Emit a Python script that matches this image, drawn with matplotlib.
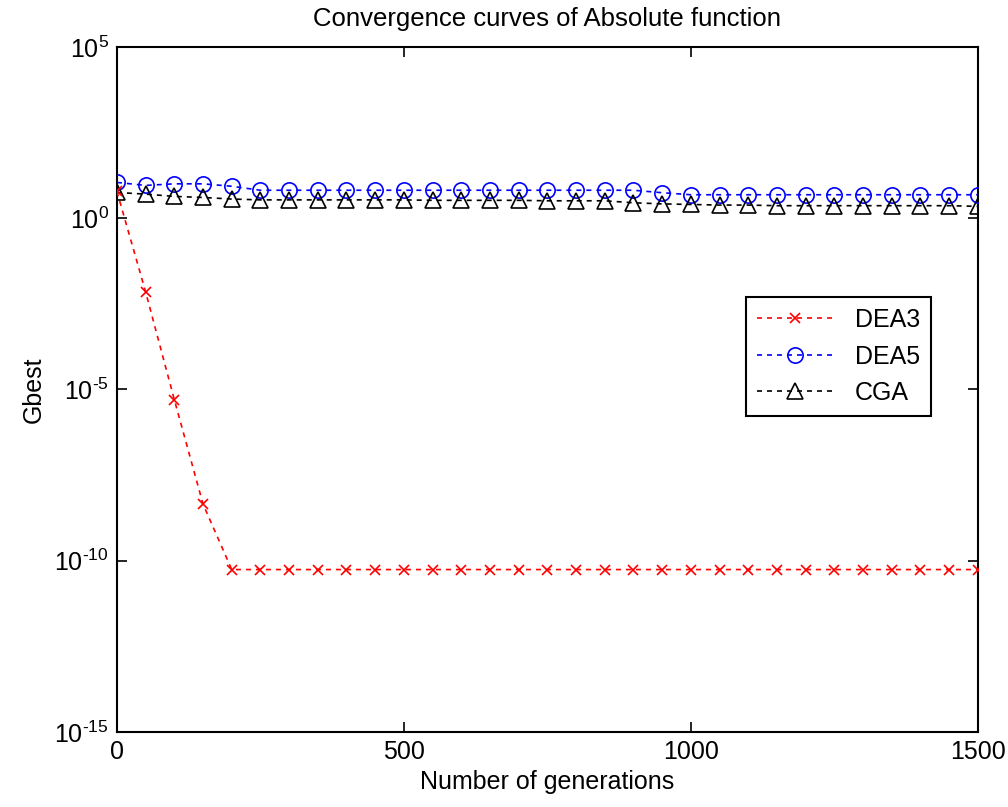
import numpy as np
import matplotlib.pyplot as plt
from matplotlib.ticker import FuncFormatter

plt.rcParams['font.family'] = ['Liberation Sans', 'DejaVu Sans']
plt.rcParams['mathtext.fontset'] = 'custom'
plt.rcParams['mathtext.rm'] = 'Liberation Sans'
plt.rcParams['mathtext.default'] = 'regular'

# generations sampled every 50
generations = list(range(0, 1501, 50))

dea3 = [6.0, 7e-3, 5e-6, 4.5e-9, 5.5e-11] + [5.5e-11] * 26
dea5 = [11.0, 9.0, 10.0, 10.0, 8.5,
        6.5, 6.5, 6.5, 6.5, 6.5, 6.5, 6.5, 6.5, 6.5, 6.5, 6.5, 6.5, 6.5, 6.5,
        5.5,
        4.8, 4.8, 4.8, 4.8, 4.8, 4.8, 4.8, 4.8, 4.8, 4.8, 4.8]
cga = [5.6, 5.0, 4.3, 4.0, 3.6,
       3.4, 3.4, 3.4, 3.4, 3.4, 3.4, 3.3, 3.3, 3.3, 3.3, 3.2, 3.2, 3.2,
       2.8, 2.6, 2.5, 2.4, 2.4, 2.3, 2.3, 2.3, 2.3, 2.3, 2.3, 2.3, 2.2]

fig = plt.figure(figsize=(10.08, 8.07), dpi=100)
ax = fig.add_axes([0.116, 0.093, 0.854, 0.849])

dash = (0, (3, 3))
ax.semilogy(generations, dea3, color='red', linestyle=dash, marker='x',
            markersize=7.5, markeredgewidth=1.2, linewidth=1.2, label='DEA3', zorder=5)
ax.semilogy(generations, dea5, color='blue', linestyle=dash, marker='o',
            markersize=11, markerfacecolor='none', markeredgewidth=1.2,
            linewidth=1.2, label='DEA5', zorder=3)
ax.semilogy(generations, cga, color='black', linestyle=dash, marker='^',
            markersize=11, markerfacecolor='none', markeredgewidth=1.2,
            linewidth=1.2, label='CGA', zorder=4)

ax.set_xlim(0, 1500)
ax.set_ylim(1e-15, 1e5)
ax.set_xticks([0, 500, 1000, 1500])
ax.set_yticks([1e-15, 1e-10, 1e-5, 1e0, 1e5])
ax.yaxis.set_minor_locator(plt.NullLocator())
# exponent with a plain hyphen, as MATLAB prints it
ax.yaxis.set_major_formatter(FuncFormatter(
    lambda v, pos: r'$10^{\text{%d}}$' % round(np.log10(v))))
ax.tick_params(direction='in', top=True, right=True, labelsize=18,
               length=7, width=1.2, pad=6)
for s in ax.spines.values():
    s.set_linewidth(1.5)

ax.set_title('Convergence curves of Absolute function', fontsize=18.5, pad=15)
ax.set_xlabel('Number of generations', fontsize=18, labelpad=4)
ax.set_ylabel('Gbest', fontsize=18, labelpad=6)

leg = ax.legend(loc='upper right', bbox_to_anchor=(0.946, 0.635), fontsize=18,
                fancybox=False, framealpha=1, edgecolor='black',
                handlelength=3.0, handletextpad=0.9, borderpad=0.45,
                labelspacing=0.5, borderaxespad=0.0)
leg.get_frame().set_linewidth(1.5)

fig.savefig('out.png', dpi=100)
